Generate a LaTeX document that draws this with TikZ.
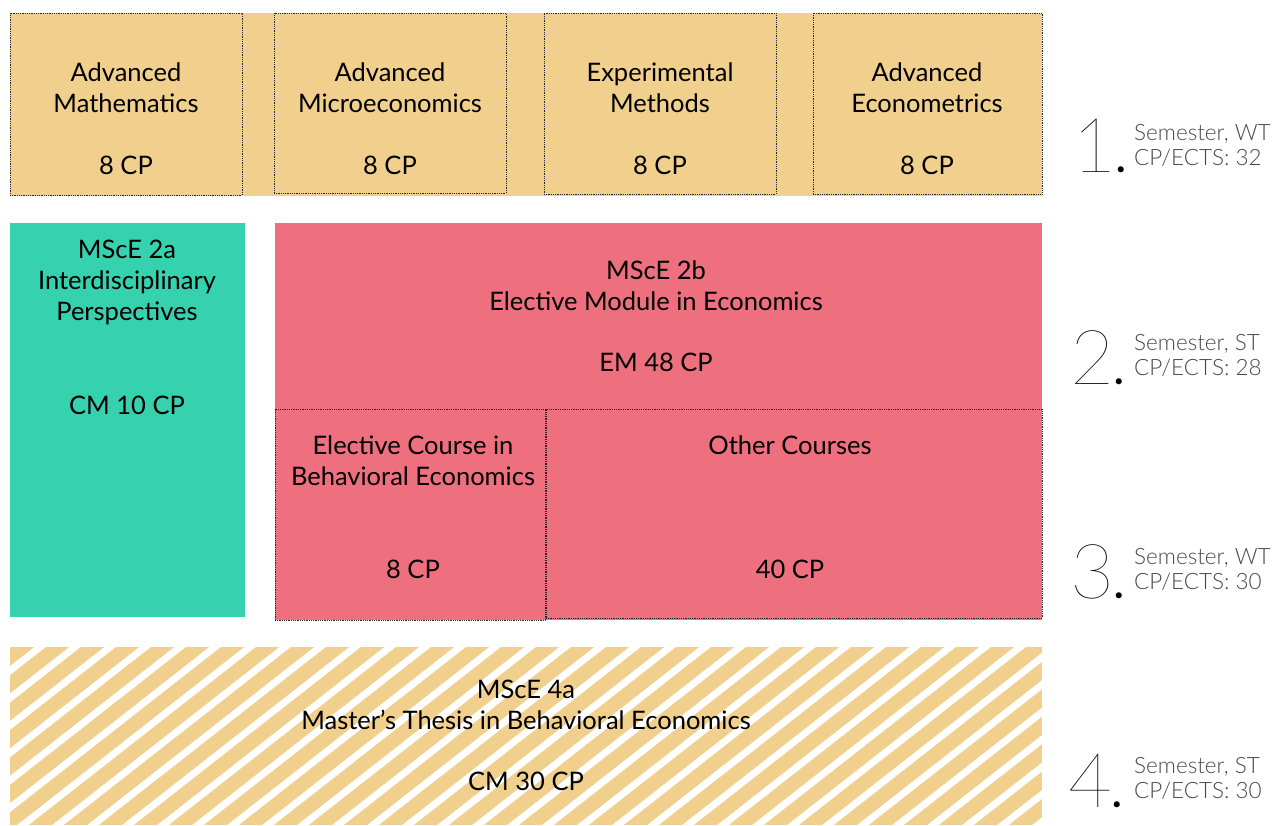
\documentclass[tikz,border=0pt]{standalone}
\usepackage{fontspec}
\setmainfont{Lato}
\newfontfamily\latolight{Lato Light}
\newfontfamily\latothin{Lato Hairline}
\definecolor{cyellow}{HTML}{F1D08E}
\definecolor{cteal}{HTML}{36D1AE}
\definecolor{cpink}{HTML}{EE6F7E}
\definecolor{cgray}{HTML}{484848}
\newcommand{\semno}[1]{{\latothin #1}{\fontsize{40}{40}\selectfont\bfseries.}}
\begin{document}
\begin{tikzpicture}[x=1pt,y=-1pt,
  box/.style={anchor=north west,inner sep=0pt,outer sep=0pt},
  dotbox/.style={box,draw=black!85,densely dotted,line width=0.8pt},
  lbl/.style={font=\fontsize{25.5}{31}\selectfont,align=center,text=black},
  semnum/.style={font=\fontsize{76}{76}\selectfont,anchor=base west,inner sep=0pt},
  semtxt/.style={font=\latolight\fontsize{22.5}{25}\selectfont,text=cgray,anchor=base west,align=left,inner sep=0pt}]
\useasboundingbox (0,0) rectangle (1272,825);
% semester 1
\node[box,fill=cyellow,minimum width=1032pt,minimum height=183pt] (band) at (10,13) {};
\node[dotbox,minimum width=232pt,minimum height=182pt] (m1) at (10,13) {};
\node[dotbox,minimum width=232pt,minimum height=180pt] (m2) at (274,13) {};
\node[dotbox,minimum width=232pt,minimum height=181pt] (m3) at (544,13) {};
\node[dotbox,minimum width=229pt,minimum height=181pt] (m4) at (813,13) {};
\node[lbl] (t1) at (126,88) {Advanced\\Mathematics};
\node[lbl] (c1) at (126,165) {8 CP};
\node[lbl] (t2) at (390,88) {Advanced\\Microeconomics};
\node[lbl] (c2) at (390,165) {8 CP};
\node[lbl] (t3) at (660,88) {Experimental\\Methods};
\node[lbl] (c3) at (660,165) {8 CP};
\node[lbl] (t4) at (927,88) {Advanced\\Econometrics};
\node[lbl] (c4) at (927,165) {8 CP};
% semesters 2-3
\node[box,fill=cteal,minimum width=235pt,minimum height=394pt] (teal) at (10,223) {};
\node[lbl] (tt) at (127,282) {MScE 2a\\Interdisciplinary\\Perspectives};
\node[lbl] (tc) at (127,405) {CM 10 CP};
\node[box,fill=cpink,minimum width=767pt,minimum height=397pt] (pink) at (275,223) {};
\node[lbl] (pt) at (656,286) {MScE 2b\\Elective Module in Economics};
\node[lbl] (pc) at (656,362) {EM 48 CP};
\node[dotbox,minimum width=270pt,minimum height=211pt] (ec) at (275,409) {};
\node[dotbox,minimum width=496pt,minimum height=209pt] (oc) at (546,409) {};
\node[lbl] (ect) at (413,461) {Elective Course in\\Behavioral Economics};
\node[lbl] (ecc) at (413,569) {8 CP};
\node[lbl] (oct) at (790,445) {Other Courses};
\node[lbl] (occ) at (790,569) {40 CP};
% semester 4
\node[box,fill=cyellow,minimum width=1032pt,minimum height=178pt] (th) at (10,647) {};
\begin{scope}
\clip (10,647) rectangle (1042,825);
\foreach \i in {-2,...,38}
  \draw[white,line width=7pt] ({49+35*\i},640) -- ({49+35*\i-245},832);
\end{scope}
\node[lbl] (tht) at (526,705) {MScE 4a\\Master’s Thesis in Behavioral Economics};
\node[lbl] (thc) at (526,781) {CM 30 CP};
% semester labels
\node[semnum] (n1) at (1072,172) {\semno{1}};
\node[semtxt] (s1) at (1134,165) {Semester, WT\\CP/ECTS: 32};
\node[semnum] (n2) at (1070,384) {\semno{2}};
\node[semtxt] (s2) at (1134,375) {Semester, ST\\CP/ECTS: 28};
\node[semnum] (n3) at (1070,598) {\semno{3}};
\node[semtxt] (s3) at (1134,589) {Semester, WT\\CP/ECTS: 30};
\node[semnum] (n4) at (1068,807) {\semno{4}};
\node[semtxt] (s4) at (1134,798) {Semester, ST\\CP/ECTS: 30};
\end{tikzpicture}
\end{document}
